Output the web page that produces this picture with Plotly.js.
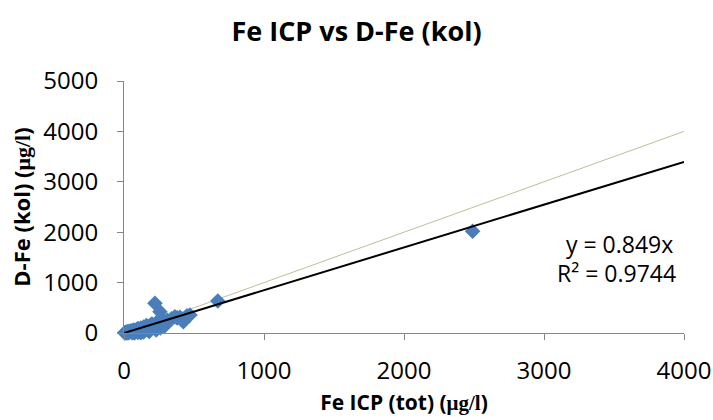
<!DOCTYPE html>
<html><head><meta charset="utf-8">
<script src="https://cdn.plot.ly/plotly-3.0.1.min.js"></script>
<style>body{margin:0;background:#fff}#c{width:713px;height:420px}</style>
</head><body><div id="c"></div>
<script>
const feICP = [5,10,15,20,25,30,35,40,45,50,55,60,65,70,80,90,100,110,120,130,140,150,160,170,180,190,200,210,221,230,240,257,270,290,310,340,364,380,400,424,450,471,670,2490,20,60,100,140,180,230,260,290,120,75];
const dFe   = [3,8,20,10,25,5,30,15,40,35,20,50,30,60,45,70,90,60,100,80,120,110,150,130,90,160,180,120,589,200,150,423,190,230,250,280,323,300,310,224,340,357,635,2020,0,5,10,20,30,60,100,140,5,0];
const slope = 0.849;
const lineX = [0, 4000];
const trendY = lineX.map(v => slope * v);
const oneToOneY = lineX.slice();
const eqText = "y = 0.849x";
const r2Text = "R² = 0.9744";

const font = "Open Sans, Liberation Sans, sans-serif";
const serif = "Liberation Serif, Times New Roman, serif";

Plotly.newPlot('c', [
  {x: lineX, y: oneToOneY, mode: 'lines', line: {color: '#C4BD97', width: 1}, hoverinfo: 'skip'},
  {x: feICP, y: dFe, mode: 'markers', cliponaxis: false, marker: {symbol: 'diamond', size: 12, color: '#4A7EBB'}},
  {x: lineX, y: trendY, mode: 'lines', line: {color: '#000000', width: 2}}
], {
  width: 713, height: 420,
  margin: {l: 124, r: 29, t: 81, b: 87},
  showlegend: false,
  paper_bgcolor: '#fff', plot_bgcolor: '#fff',
  title: {text: '<b>Fe ICP vs D-Fe (kol)</b>', x: 0.5, xanchor: 'center', y: 0.925, yanchor: 'middle', font: {family: font, size: 27, color: '#000'}},
  xaxis: {
    range: [0, 4000], tickvals: [0,1000,2000,3000,4000], showgrid: false, zeroline: false,
    showline: true, linecolor: '#868686', linewidth: 1, ticks: 'outside', ticklen: 6, tickcolor: '#868686',
    ticklabelstandoff: 10,
    tickfont: {family: font, size: 24, color: '#000'},
    title: {text: '<b>Fe ICP (tot) (<span style="font-family:' + serif + '">μg/l</span>)</b>', font: {family: font, size: 21, color: '#000'}, standoff: 10}
  },
  yaxis: {
    range: [0, 5000], tickvals: [0,1000,2000,3000,4000,5000], showgrid: false, zeroline: false,
    showline: true, linecolor: '#868686', linewidth: 1, ticks: 'outside', ticklen: 6, tickcolor: '#868686',
    ticklabelstandoff: 14,
    tickfont: {family: font, size: 24, color: '#000'},
    title: {text: '<b>D-Fe (kol) (<span style="font-family:' + serif + '">μg/l</span>)</b>', font: {family: font, size: 22, color: '#000'}, standoff: 6}
  },
  annotations: [
    {xref: 'paper', yref: 'paper', x: 0.885, y: 0.355, yanchor: 'middle', text: eqText, showarrow: false, xanchor: 'center', font: {family: font, size: 23, color: '#000'}},
    {xref: 'paper', yref: 'paper', x: 0.88, y: 0.24, yanchor: 'middle', text: r2Text, showarrow: false, xanchor: 'center', font: {family: font, size: 23, color: '#000'}}
  ]
}, {displayModeBar: false, staticPlot: true});
</script></body></html>
